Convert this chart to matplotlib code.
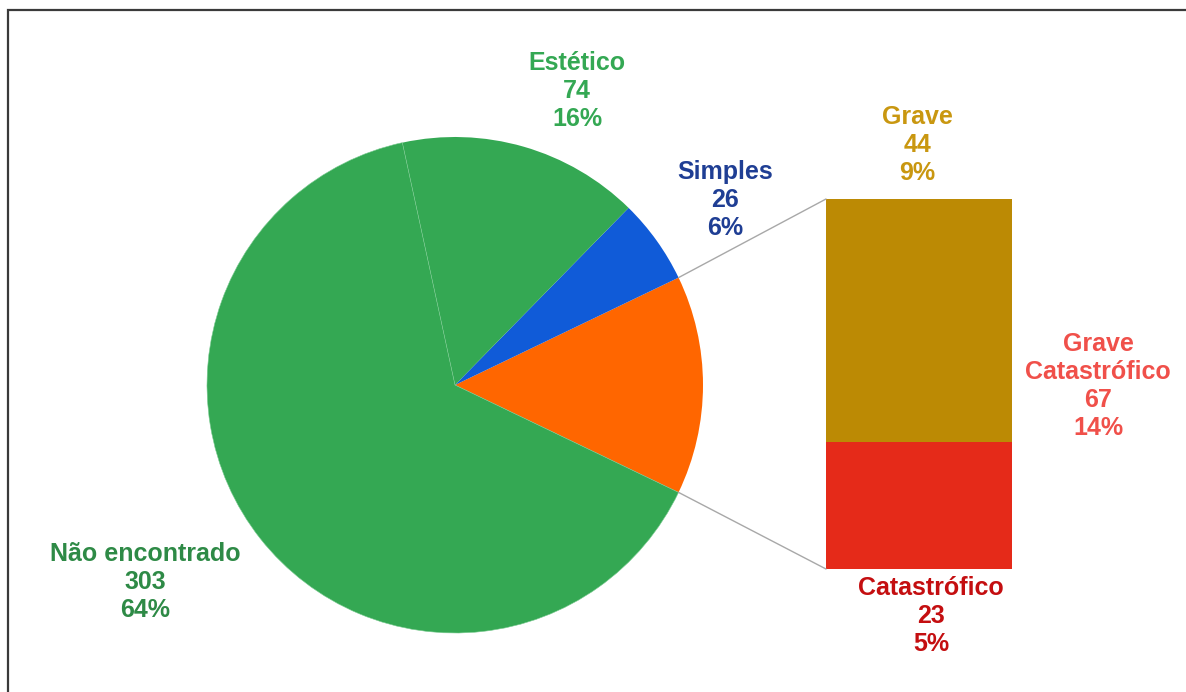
import matplotlib
matplotlib.use("Agg")
import matplotlib.pyplot as plt
from matplotlib.patches import ConnectionPatch, Rectangle
import numpy as np

# Pie: outer categories (the two severe classes are merged into one slice)
pie_labels = ["Grave\nCatastrófico", "Simples", "Estético", "Não encontrado"]
pie_values = [67, 26, 74, 303]
pie_colors = ["#FF6600", "#105BD8", "#34A853", "#34A853"]
pie_text_colors = ["#F0504A", "#1F3E94", "#34A853", "#2E8A46"]

# Breakdown of the merged slice
bar_labels = ["Catastrófico", "Grave"]
bar_values = [23, 44]
bar_colors = ["#E52A19", "#BC8A04"]
bar_text_colors = ["#C40E10", "#C99710"]

total = sum(pie_values)

W, H = 1186, 692
fig = plt.figure(figsize=(W / 100, H / 100), dpi=100)
fig.patch.set_facecolor("white")

FONT = dict(family="Liberation Sans", fontweight="bold", fontsize=18,
            ha="center", va="center", linespacing=1.22)


def px_box(x0, y0, x1, y1):
    """Axes rectangle from pixel corners (top-left origin)."""
    return [x0 / W, 1 - y1 / H, (x1 - x0) / W, (y1 - y0) / H]


# ---- pie ----
cx, cy, r = 455, 385, 248
ax = fig.add_axes(px_box(cx - r, cy - r, cx + r, cy + r))
start = -pie_values[0] / total * 180.0
wedges, _ = ax.pie(pie_values, colors=pie_colors, startangle=start, counterclock=True,
                   radius=1.0, wedgeprops=dict(linewidth=0, antialiased=True))
# faint seam between the two green slices
wedges[3].set_edgecolor("#7ACB91")
wedges[3].set_linewidth(0.4)
ax.set_xlim(-1, 1)
ax.set_ylim(-1, 1)
ax.set_aspect("equal")
ax.axis("off")

# ---- stacked bar for the merged slice ----
bx0, by0, bx1, by1 = 826, 199, 1012, 569
ax2 = fig.add_axes(px_box(bx0, by0, bx1, by1))
bottom = 0
for v, c in zip(bar_values, bar_colors):
    ax2.bar(0, v, width=1.0, bottom=bottom, color=c, linewidth=0)
    bottom += v
ax2.set_xlim(-0.5, 0.5)
ax2.set_ylim(0, sum(bar_values))
ax2.axis("off")

# connector lines from the merged slice to the bar
w0 = wedges[0]
for theta, yb in [(w0.theta2, sum(bar_values)), (w0.theta1, 0)]:
    xa, ya = np.cos(np.radians(theta)), np.sin(np.radians(theta))
    con = ConnectionPatch(xyA=(-0.5, yb), coordsA=ax2.transData,
                          xyB=(xa, ya), coordsB=ax.transData,
                          color="#A8A8A8", linewidth=1.0)
    fig.add_artist(con)

# ---- labels ----
def pct(v):
    return f"{int(round(100 * v / total))}%"

label_pos = {
    "Estético": (577, 91),
    "Simples": (725, 200),
    "Não encontrado": (145, 582),
    "Grave\nCatastrófico": (1098, 386),
}
for lab, v, tc in zip(pie_labels, pie_values, pie_text_colors):
    x, y = label_pos[lab]
    fig.text(x / W, 1 - y / H, f"{lab}\n{v}\n{pct(v)}", color=tc, **FONT)

bar_pos = {"Grave": (917, 145), "Catastrófico": (931, 616)}
for lab, v, tc in zip(bar_labels, bar_values, bar_text_colors):
    x, y = bar_pos[lab]
    fig.text(x / W, 1 - y / H, f"{lab}\n{v}\n{pct(v)}", color=tc, **FONT)

# outer frame (extends past the right and bottom edges)
fig.add_artist(Rectangle((8 / W, -0.1), 1.2, 1 - 10 / H + 0.1, transform=fig.transFigure,
                         fill=False, edgecolor="#3A3A3A", linewidth=1.6))

fig.savefig("out.png", dpi=100, facecolor="white")
